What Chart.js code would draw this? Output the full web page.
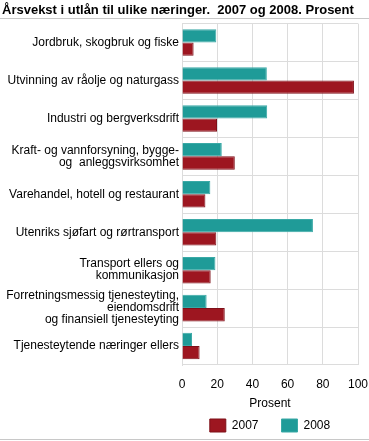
<!DOCTYPE html>
<html>
<head>
<meta charset="utf-8">
<script src="https://cdn.jsdelivr.net/npm/chart.js@4"></script>
<style>
  html, body { margin: 0; padding: 0; background: #fff; }
  #wrap { width: 369px; height: 441px; }
</style>
</head>
<body>
<div id="wrap"><canvas id="chart"></canvas></div>
<script>
const categories = [
  ['Jordbruk, skogbruk og fiske'],
  ['Utvinning av råolje og naturgass'],
  ['Industri og bergverksdrift'],
  ['Kraft- og vannforsyning, bygge-', 'og  anleggsvirksomhet'],
  ['Varehandel, hotell og restaurant'],
  ['Utenriks sjøfart og rørtransport'],
  ['Transport ellers og', 'kommunikasjon'],
  ['Forretningsmessig tjenesteyting,', 'eiendomsdrift', 'og finansiell tjenesteyting'],
  ['Tjenesteytende næringer ellers']
];
const values2007 = [6.6, 97.7, 19.9, 30.0, 13.3, 19.5, 16.3, 24.3, 10.0];
const values2008 = [19.5, 48.2, 48.4, 22.6, 16.1, 74.4, 19.0, 14.0, 5.7];
const xTicks = [0, 20, 40, 60, 80, 100];

const FONT = 'Arial, "Liberation Sans", sans-serif';

// grey rules under the title and at the bottom
const rules = {
  id: 'rules',
  afterDraw(chart) {
    const ctx = chart.ctx;
    ctx.save();
    ctx.strokeStyle = '#c8c8c8';
    ctx.lineWidth = 1;
    ctx.beginPath();
    ctx.moveTo(0, 18.5); ctx.lineTo(chart.width, 18.5);
    ctx.moveTo(0, 439.5); ctx.lineTo(chart.width, 439.5);
    ctx.stroke();
    ctx.restore();
  }
};

new Chart(document.getElementById('chart'), {
  type: 'bar',
  data: {
    labels: categories,
    datasets: [
      {
        label: '2008',
        data: values2008,
        backgroundColor: '#1f9b98',
        borderColor: '#3aa9a6',
        borderWidth: 1,
        barPercentage: 1.0,
        categoryPercentage: 0.7
      },
      {
        label: '2007',
        data: values2007,
        backgroundColor: '#9d1620',
        borderColor: '#7e1019',
        borderWidth: 1,
        barPercentage: 1.0,
        categoryPercentage: 0.7
      }
    ]
  },
  options: {
    indexAxis: 'y',
    responsive: true,
    maintainAspectRatio: false,
    animation: false,
    layout: { padding: { left: 2, right: 0, top: 0, bottom: 0 } },
    scales: {
      x: {
        min: 0,
        max: 100,
        afterBuildTicks: (s) => { s.ticks = xTicks.map(v => ({ value: v })); },
        afterFit: (s) => { s.paddingRight = 11; s.height = 31; },
        ticks: { color: '#000', font: { family: FONT, size: 12 }, padding: 12 },
        grid: { color: '#dcdcdc', drawTicks: false },
        border: { display: false },
        title: {
          display: true,
          text: 'Prosent',
          color: '#000',
          font: { family: FONT, size: 12 },
          padding: { top: 0, bottom: -15 }
        }
      },
      y: {
        afterFit: (s) => { s.width = 180; },
        ticks: {
          color: '#000',
          autoSkip: false,
          font: { family: FONT, size: 12, lineHeight: 1.0 },
          padding: 3
        },
        grid: { color: '#dcdcdc', drawTicks: false, offset: true },
        border: { color: '#dcdcdc' }
      }
    },
    plugins: {
      title: {
        display: true,
        text: 'Årsvekst i utlån til ulike næringer.  2007 og 2008. Prosent',
        align: 'start',
        color: '#000',
        font: { family: FONT, size: 13, weight: 'bold' },
        padding: { top: 3, bottom: 5 }
      },
      legend: {
        position: 'bottom',
        fullSize: false,
        maxHeight: 45,
        labels: {
          boxWidth: 16,
          boxHeight: 13,
          color: '#000',
          font: { family: FONT, size: 12 },
          padding: 23,
          sort: (a, b) => b.datasetIndex - a.datasetIndex
        }
      },
      tooltip: { enabled: false }
    }
  },
  plugins: [rules]
});
</script>
</body>
</html>
